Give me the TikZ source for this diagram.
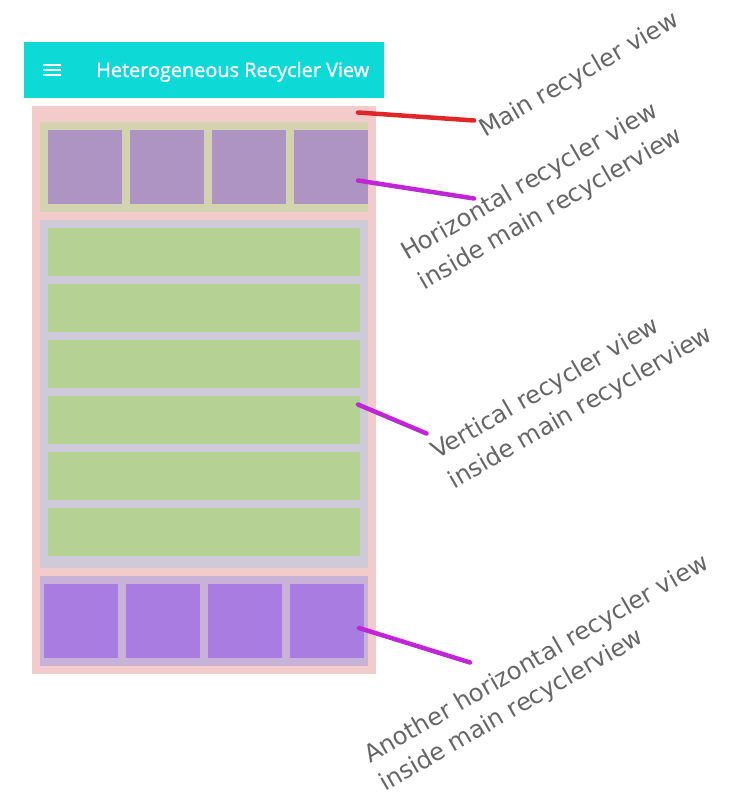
\documentclass[tikz,border=0pt]{standalone}
\usepackage{graphicx}
\usepackage{fontspec}
\setmainfont{DejaVu Sans}
\newfontfamily\titlefont[FakeBold=1.2]{Open Sans}
\definecolor{hdr}{HTML}{0DD9D6}
\definecolor{mainbg}{HTML}{F3CBCB}
\definecolor{tanbg}{HTML}{D3D4AF}
\definecolor{topitem}{HTML}{AE94C3}
\definecolor{vertbg}{HTML}{CFCAD8}
\definecolor{greenitem}{HTML}{B5D294}
\definecolor{botbg}{HTML}{C9B2D7}
\definecolor{botitem}{HTML}{A87CE0}
\definecolor{lblgray}{HTML}{666666}
\definecolor{redline}{HTML}{E02626}
\definecolor{purpline}{HTML}{C026D8}
\begin{document}
\begin{tikzpicture}[x=1pt,y=-1pt,
  lbl/.style={text=lblgray, font=\fontsize{24.2}{28}\selectfont, inner sep=0pt, rotate=30, anchor=base west},
  conn/.style={line width=4.5pt, line cap=round},
  burger/.style={white, line width=2pt}]
\useasboundingbox (0,0) rectangle (739,800);
% header
\fill[hdr] (24,42) rectangle (384,98);
\draw[burger] (43,65) -- (61,65);
\draw[burger] (43,70) -- (61,70);
\draw[burger] (43,75) -- (61,75);
\node[anchor=base west, inner sep=0pt, text=white] (title) at (96,77)
  {\resizebox{273pt}{!}{\titlefont\fontsize{20}{24}\selectfont Heterogeneous Recycler View}};
% main recycler
\fill[mainbg] (32,106) rectangle (376,674);
% top horizontal
\fill[tanbg] (40,122) rectangle (368,212);
\foreach \x in {48,130,212,294} \fill[topitem] (\x,130) rectangle ++(74,74);
% vertical
\fill[vertbg] (40,220) rectangle (368,568);
\foreach \y in {228,284,340,396,452,508} \fill[greenitem] (48,\y) rectangle ++(312,48);
% bottom horizontal
\fill[botbg] (40,576) rectangle (368,666);
\foreach \x in {44,126,208,290} \fill[botitem] (\x,584) rectangle ++(74,74);
% labels
\node[lbl] (mainlbl) at (485,138) {Main recycler view};
\node[lbl] (hlbl1) at (407,261) {Horizontal recycler view};
\node[lbl] (hlbl2) at ([shift={(17,29.4)}]hlbl1.base west) {inside main recyclerview};
\node[lbl] (vlbl1) at (437,460) {Vertical recycler view};
\node[lbl] (vlbl2) at ([shift={(17,29.4)}]vlbl1.base west) {inside main recyclerview};
\node[lbl] (albl1) at (370,764) {Another horizontal recycler view};
\node[lbl] (albl2) at ([shift={(15,28)}]albl1.base west) {inside main recyclerview};
% connector endpoints
\coordinate (m1) at (358,112.5);
\coordinate (m2) at (474,120.5);
\coordinate (h1) at (358,180.5);
\coordinate (h2) at (474,198.5);
\coordinate (v1) at (358,404.5);
\coordinate (v2) at (426.5,433.5);
\coordinate (a1) at (359,628);
\coordinate (a2) at (470,662.5);
\draw[conn, redline] (m1) -- (m2);
\draw[conn, purpline] (h1) -- (h2);
\draw[conn, purpline] (v1) -- (v2);
\draw[conn, purpline] (a1) -- (a2);
\end{tikzpicture}
\end{document}
